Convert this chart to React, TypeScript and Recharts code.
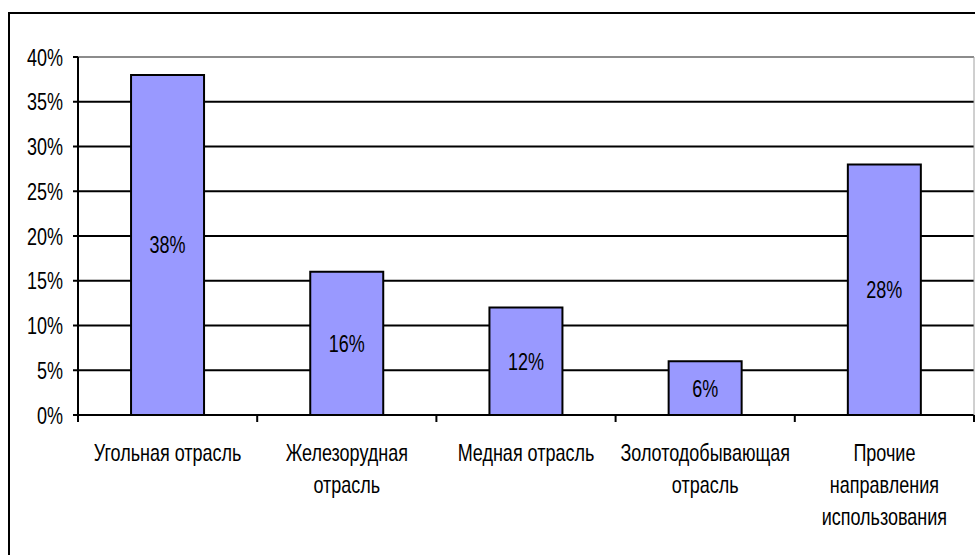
import { BarChart, Bar, XAxis, YAxis, CartesianGrid, ReferenceLine, LabelList } from 'recharts'

const categories = [
  'Угольная отрасль',
  'Железорудная\nотрасль',
  'Медная отрасль',
  'Золотодобывающая\nотрасль',
  'Прочие\nнаправления\nиспользования',
]
const shares = [38, 16, 12, 6, 28]
const yTicks = [0, 5, 10, 15, 20, 25, 30, 35, 40]

const FONT = '"Liberation Sans", Arial, sans-serif'
const SQUEEZE = 'scale(0.75,1)'

const chartData = categories.map((name, i) => ({ name, share: shares[i] }))

function YTick({ x, y, payload }: any) {
  return (
    <text
      transform={`translate(${x},${y}) ${SQUEEZE}`}
      textAnchor="end"
      dy="0.355em"
      fontSize={24}
      fontFamily={FONT}
      fill="#000"
    >
      {`${payload.value}%`}
    </text>
  )
}

// category label plus the small tick marks at the band edges (Excel style)
function CategoryTick({ x, y, payload, width, visibleTicksCount, index }: any) {
  const lines = String(payload.value).split('\n')
  const band = Number(width) / Number(visibleTicksCount)
  const left = x - band / 2
  const right = x + band / 2
  const isLast = index === visibleTicksCount - 1
  return (
    <g>
      <line x1={left} y1={y} x2={left} y2={y + 7} stroke="#000" strokeWidth={2} />
      {isLast && <line x1={right} y1={y} x2={right} y2={y + 7} stroke="#000" strokeWidth={2} />}
      <g transform={`translate(${x},${y}) ${SQUEEZE}`}>
        {lines.map((line, i) => (
          <text key={i} x={0} y={46 + i * 32} textAnchor="middle" fontSize={24} fontFamily={FONT} fill="#000">
            {line}
          </text>
        ))}
      </g>
    </g>
  )
}

function ValueLabel({ x, y, width, height, value }: any) {
  const cx = Number(x) + Number(width) / 2
  const cy = Number(y) + Number(height) / 2
  return (
    <text
      transform={`translate(${cx},${cy}) ${SQUEEZE}`}
      textAnchor="middle"
      dy="0.355em"
      fontSize={24}
      fontFamily={FONT}
      fill="#000"
    >
      {`${value}%`}
    </text>
  )
}

export default function App() {
  return (
    <div style={{ position: 'fixed', left: 0, top: 0, width: 975, height: 555, background: '#fff', overflow: 'hidden' }}>
      {/* outer frame, runs off the right and bottom edges */}
      <div
        style={{
          position: 'absolute',
          left: 8,
          top: 12,
          width: 1000,
          height: 600,
          borderTop: '2px solid #000',
          borderLeft: '2px solid #000',
        }}
      />
      <div style={{ position: 'absolute', left: 0, top: 0 }}>
        <BarChart
          width={975}
          height={555}
          data={chartData}
          margin={{ top: 57, right: 0, bottom: 0, left: 0 }}
          barCategoryGap="29.6%"
        >
          <CartesianGrid horizontal vertical={false} stroke="#000" strokeWidth={2} />
          <XAxis
            dataKey="name"
            type="category"
            height={140}
            axisLine={{ stroke: '#000', strokeWidth: 2 }}
            tickLine={false}
            tickSize={0}
            tickMargin={0}
            interval={0}
            tick={<CategoryTick />}
          />
          <YAxis
            domain={[0, 40]}
            ticks={yTicks}
            width={78}
            tickSize={5}
            tickMargin={10}
            interval={0}
            axisLine={{ stroke: '#000', strokeWidth: 2 }}
            tickLine={{ stroke: '#000', strokeWidth: 2 }}
            tick={<YTick />}
          />
          <YAxis
            yAxisId="r"
            orientation="right"
            domain={[0, 40]}
            width={1}
            tick={false}
            tickLine={false}
            axisLine={{ stroke: '#a0a0a0', strokeWidth: 1 }}
          />
          <ReferenceLine y={40} stroke="#8c8c8c" strokeWidth={2} />
          <Bar
            dataKey="share"
            fill="#9999FF"
            stroke="#000"
            strokeWidth={2}
            isAnimationActive={false}
          >
            <LabelList dataKey="share" content={<ValueLabel />} />
          </Bar>
        </BarChart>
      </div>
    </div>
  )
}
